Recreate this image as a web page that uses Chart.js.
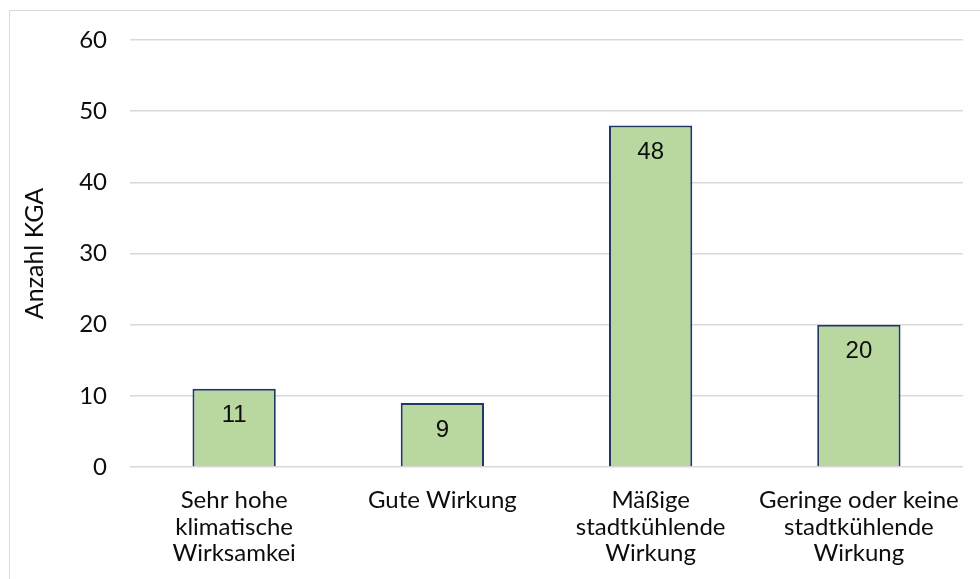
<!DOCTYPE html>
<html>
<head>
<meta charset="utf-8">
<script src="https://cdn.jsdelivr.net/npm/chart.js@4/dist/chart.umd.min.js"></script>
<style>
  html, body { margin: 0; padding: 0; background: #fff; }
  #wrap { position: relative; width: 980px; height: 579px; overflow: hidden; }
  #frame { position: absolute; left: 9px; top: 10px; width: 1000px; height: 600px; border: 1px solid #d9d9d9; }
  #chart { position: absolute; left: 0; top: 0; }
</style>
</head>
<body>
<div id="wrap">
  <div id="frame"></div>
  <canvas id="chart" width="980" height="579"></canvas>
</div>
<script>
// ---- data ----
const categories = [
  ['Sehr hohe', 'klimatische', 'Wirksamkei'],
  ['Gute Wirkung'],
  ['Mäßige', 'stadtkühlende', 'Wirkung'],
  ['Geringe oder keine', 'stadtkühlende', 'Wirkung']
];
const counts = [11, 9, 48, 20];
const yTicks = [0, 10, 20, 30, 40, 50, 60];
const yTitle = 'Anzahl KGA';

const textColor = '#0d0d0d';
const barFill = '#b8d8a0';
const barEdge = '#1f3864';

// labels inside the top of each bar
const innerLabels = {
  id: 'innerLabels',
  afterDatasetsDraw(chart) {
    const ctx = chart.ctx;
    const meta = chart.getDatasetMeta(0);
    ctx.save();
    ctx.font = '24px "Liberation Sans", Arial, sans-serif';
    ctx.fillStyle = textColor;
    ctx.textAlign = 'center';
    ctx.textBaseline = 'middle';
    meta.data.forEach((bar, i) => {
      ctx.fillText(String(counts[i]), bar.x, bar.y + 27);
    });
    ctx.restore();
  }
};

new Chart(document.getElementById('chart'), {
  type: 'bar',
  data: {
    labels: categories,
    datasets: [{
      data: counts,
      backgroundColor: barFill,
      borderColor: barEdge,
      borderWidth: 2,
      categoryPercentage: 1,
      barPercentage: 0.4
    }]
  },
  options: {
    responsive: false,
    animation: false,
    events: [],
    layout: { padding: { top: 40, right: 17, left: 0, bottom: 0 } },
    plugins: {
      legend: { display: false },
      tooltip: { enabled: false }
    },
    scales: {
      x: {
        grid: { display: false },
        border: { display: false },
        ticks: {
          color: textColor,
          font: { family: 'Lato', size: 24, lineHeight: 1.11 },
          padding: 12,
          maxRotation: 0,
          autoSkip: false
        },
        afterFit: s => {
          s.height = 112;
          s.paddingLeft = 0;
          s.paddingRight = 0;
        }
      },
      y: {
        min: 0,
        max: 60,
        afterBuildTicks: s => { s.ticks = yTicks.map(v => ({ value: v })); },
        grid: { color: '#d9d9d9', lineWidth: 1.5, drawTicks: false },
        border: { display: false },
        ticks: {
          color: textColor,
          font: { family: 'Lato', size: 24, lineHeight: 1.2 },
          padding: 23
        },
        title: {
          display: true,
          text: yTitle,
          color: textColor,
          font: { family: 'Lato', size: 25, lineHeight: 1.2 },
          padding: { top: 20, bottom: 0 }
        },
        afterFit: s => { s.width = 130; }
      }
    }
  },
  plugins: [innerLabels]
});
</script>
</body>
</html>
